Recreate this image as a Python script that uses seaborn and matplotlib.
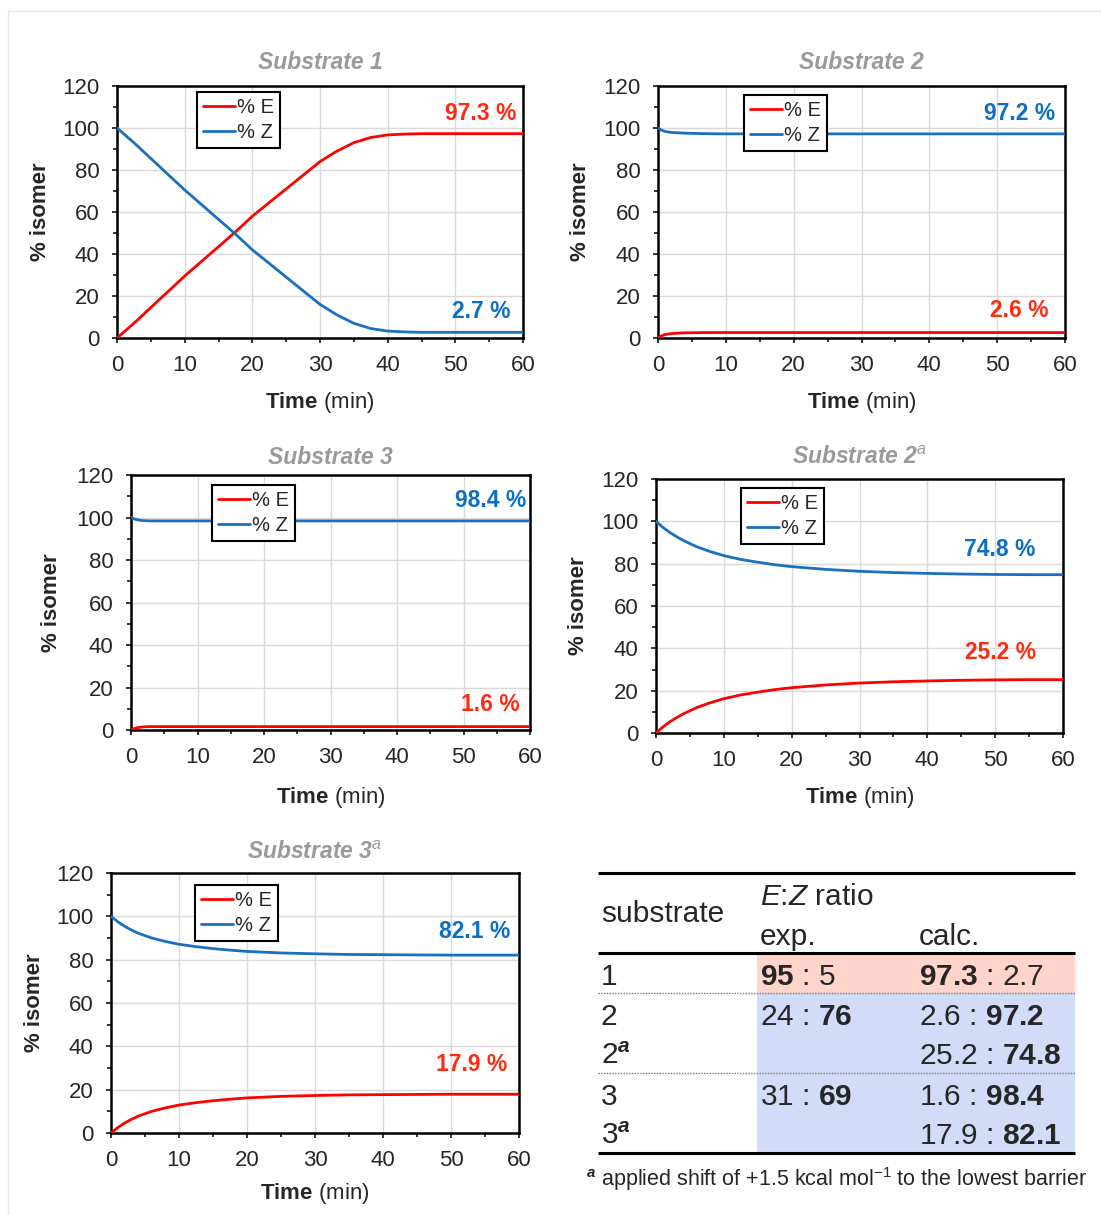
import matplotlib
matplotlib.use('Agg')
import matplotlib.pyplot as plt
from matplotlib.lines import Line2D
from matplotlib.patches import Rectangle
from matplotlib.ticker import MultipleLocator
import numpy as np
import pandas as pd
import seaborn as sns

# ---- data ----
s1_t = [0, 2.5, 5, 7.5, 10, 12.5, 15, 17.5, 20, 22.5, 25, 27.5, 30, 32.5, 35, 37.5, 40, 42.5, 45, 50, 55, 60]
s1_E = [0, 7, 14.5, 22, 29.5, 36.5, 43.5, 50.5, 58, 64.5, 71, 77.5, 84, 89, 93, 95.5, 96.7, 97.1, 97.3, 97.3, 97.3, 97.3]
s1_Z = [100, 93, 85.5, 78, 70.5, 63.5, 56.5, 49.5, 42, 35.5, 29, 22.5, 16, 11, 7, 4.5, 3.3, 2.9, 2.7, 2.7, 2.7, 2.7]

s2_t = [0, 0.5, 1, 1.5, 2, 3, 4, 5, 7, 10, 20, 30, 40, 50, 60]
s2_E = [0, 1.0, 1.6, 1.9, 2.1, 2.3, 2.45, 2.5, 2.6, 2.6, 2.6, 2.6, 2.6, 2.6, 2.6]
s2_Z = [100, 99.0, 98.4, 98.1, 97.9, 97.7, 97.55, 97.45, 97.3, 97.2, 97.2, 97.2, 97.2, 97.2, 97.2]

s3_t = [0, 0.5, 1, 1.5, 2, 3, 5, 10, 20, 30, 40, 50, 60]
s3_E = [0, 0.7, 1.1, 1.35, 1.5, 1.6, 1.6, 1.6, 1.6, 1.6, 1.6, 1.6, 1.6]
s3_Z = [100, 99.3, 98.9, 98.65, 98.5, 98.4, 98.4, 98.4, 98.4, 98.4, 98.4, 98.4, 98.4]

sa_t = [0, 1, 2, 3, 4, 6, 8, 10, 12.5, 15, 17.5, 20, 25, 30, 35, 40, 45, 50, 55, 60]
s2a_E = [0, 2.8, 5.2, 7.2, 9.0, 12.0, 14.3, 16.2, 18.0, 19.3, 20.5, 21.4, 22.7, 23.6, 24.2, 24.6, 24.9, 25.1, 25.2, 25.2]
s2a_Z = [100, 97.2, 94.8, 92.8, 91.0, 88.0, 85.7, 83.8, 82.0, 80.7, 79.5, 78.6, 77.3, 76.4, 75.8, 75.4, 75.1, 74.9, 74.8, 74.8]
s3a_E = [0, 2.5, 4.6, 6.3, 7.8, 10.0, 11.6, 12.9, 14.0, 14.9, 15.6, 16.2, 16.9, 17.3, 17.6, 17.7, 17.8, 17.9, 17.9, 17.9]
s3a_Z = [100, 97.5, 95.4, 93.7, 92.2, 90.0, 88.4, 87.1, 86.0, 85.1, 84.4, 83.8, 83.1, 82.7, 82.4, 82.3, 82.2, 82.1, 82.1, 82.1]

titles = ['Substrate 1', 'Substrate 2', 'Substrate 3',
          r'Substrate 2$^{\mathit{a}}$', r'Substrate 3$^{\mathit{a}}$']
final_E = ['97.3 %', '2.6 %', '1.6 %', '25.2 %', '17.9 %']
final_Z = ['2.7 %', '97.2 %', '98.4 %', '74.8 %', '82.1 %']

# table
tab_sub = ['1', '2', r'2$^{\mathbfit{a}}$', '3', r'3$^{\mathbfit{a}}$']
tab_exp = [r'$\mathbf{95}$ : 5', r'24 : $\mathbf{76}$', '', r'31 : $\mathbf{69}$', '']
tab_calc = [r'$\mathbf{97.3}$ : 2.7', r'2.6 : $\mathbf{97.2}$', r'25.2 : $\mathbf{74.8}$',
            r'1.6 : $\mathbf{98.4}$', r'17.9 : $\mathbf{82.1}$']

RED = '#FF0000'
BLUE = '#1A6FC0'
RED_TXT = '#FF2A10'
BLUE_TXT = '#0D6FC4'

sns.set_style('white')
plt.rcParams['font.family'] = ['Liberation Sans', 'DejaVu Sans']
plt.rcParams['mathtext.fontset'] = 'custom'
plt.rcParams['mathtext.rm'] = 'Liberation Sans'
plt.rcParams['mathtext.it'] = 'Liberation Sans:italic'
plt.rcParams['mathtext.bf'] = 'Liberation Sans:bold'
plt.rcParams['mathtext.bfit'] = 'Liberation Sans:bold:italic'

W, H = 1101, 1215
fig = plt.figure(figsize=(W / 100, H / 100), dpi=100)

# faint page border
fig.add_artist(Line2D([8 / W, 8 / W], [0, 1 - 11 / H], color='#E8E8E8', lw=1))
fig.add_artist(Line2D([8 / W, 1], [1 - 11 / H, 1 - 11 / H], color='#E8E8E8', lw=1))


def px_axes(x0, y0, x1, y1):
    return fig.add_axes([x0 / W, 1 - y1 / H, (x1 - x0) / W, (y1 - y0) / H])


# pixel boxes, title pad, ylabel x, xlabel y, legend anchor, label positions
panels = [
    dict(box=(117, 86, 523, 338), t=s1_t, E=s1_E, Z=s1_Z, pad=12, yl=-0.163, xl=-0.206,
         leg=(0.197, 0.976), posE=(59.0, 107.1), posZ=(58.1, 12.4)),
    dict(box=(658, 86, 1065, 338), t=s2_t, E=s2_E, Z=s2_Z, pad=12, yl=-0.165, xl=-0.206,
         leg=(0.211, 0.964), posE=(57.6, 13.3), posZ=(58.5, 107.0)),
    dict(box=(131, 475, 530, 730), t=s3_t, E=s3_E, Z=s3_Z, pad=8, yl=-0.173, xl=-0.216,
         leg=(0.203, 0.96), posE=(58.5, 11.8), posZ=(59.5, 107.8)),
    dict(box=(656, 479, 1063, 733), t=sa_t, E=s2a_E, Z=s2a_Z, pad=11, yl=-0.165, xl=-0.205,
         leg=(0.209, 0.965), posE=(56.0, 37.8), posZ=(56.0, 86.9)),
    dict(box=(111, 873, 519, 1133), t=sa_t, E=s3a_E, Z=s3a_Z, pad=10, yl=-0.162, xl=-0.185,
         leg=(0.206, 0.954), posE=(58.2, 31.8), posZ=(58.7, 92.8)),
]

for i, p in enumerate(panels):
    ax = px_axes(*p['box'])
    n = len(p['t'])
    df = pd.DataFrame({'Time': list(p['t']) * 2,
                       'pct': list(p['E']) + list(p['Z']),
                       'isomer': ['% E'] * n + ['% Z'] * n})
    sns.lineplot(data=df, x='Time', y='pct', hue='isomer',
                 palette={'% E': RED, '% Z': BLUE}, linewidth=2.0,
                 legend=False, ax=ax, zorder=3)
    ax.set_xlim(0, 60)
    ax.set_ylim(0, 120)
    ax.xaxis.set_major_locator(MultipleLocator(10))
    ax.xaxis.set_minor_locator(MultipleLocator(5))
    ax.yaxis.set_major_locator(MultipleLocator(20))
    ax.yaxis.set_minor_locator(MultipleLocator(10))
    ax.grid(True, which='major', color='#D9D9D9', lw=1)
    ax.tick_params(which='major', direction='out', length=3.6, width=1.3,
                   labelsize=16, bottom=True, left=True)
    ax.tick_params(which='minor', direction='out', length=2.8, width=1.3,
                   bottom=True, left=True)
    ax.tick_params(axis='x', which='major', pad=8.5)
    ax.tick_params(axis='y', which='major', pad=9)
    for s in ax.spines.values():
        s.set_visible(True)
        s.set_color('black')
        s.set_linewidth(1.8)
    ax.set_title(titles[i], fontsize=16.5, fontweight='bold', fontstyle='italic',
                 color='#9A9A9A', pad=p['pad'])
    ax.set_ylabel('% isomer', fontsize=16, fontweight='bold')
    ax.set_xlabel(r'$\mathbf{Time}$ (min)', fontsize=16)
    ax.yaxis.set_label_coords(p['yl'], 0.5)
    ax.xaxis.set_label_coords(0.5, p['xl'])

    handles = [Line2D([], [], color=RED, lw=2.0), Line2D([], [], color=BLUE, lw=2.0)]
    leg = ax.legend(handles, ['% E', '% Z'], loc='upper left', bbox_to_anchor=p['leg'],
                    fontsize=14.5, frameon=True, fancybox=False, framealpha=1,
                    edgecolor='black', handlelength=1.6, handletextpad=0.1,
                    borderpad=0.3, labelspacing=0.3, borderaxespad=0)
    leg.get_frame().set_linewidth(1.5)
    leg.set_zorder(5)

    ax.text(*p['posE'], final_E[i], ha='right', va='center', color=RED_TXT,
            fontsize=16.5, fontweight='bold', zorder=6)
    ax.text(*p['posZ'], final_Z[i], ha='right', va='center', color=BLUE_TXT,
            fontsize=16.5, fontweight='bold', zorder=6)

# ---- table drawn in pixel space ----
tb = fig.add_axes([0, 0, 1, 1], zorder=-1)
tb.set_xlim(0, W)
tb.set_ylim(H, 0)
tb.axis('off')

tb.add_patch(Rectangle((757, 953), 1075 - 757, 40, facecolor='#FFD4CB', edgecolor='none'))
tb.add_patch(Rectangle((757, 993), 1075 - 757, 160, facecolor='#D2DBF8', edgecolor='none'))
for y in (873, 953, 1153):
    tb.plot([598, 1075], [y, y], color='black', lw=2.2, solid_capstyle='butt')
for y in (993, 1073):
    tb.plot([598, 1075], [y, y], color='#777777', lw=1, ls=(0, (1, 1)))

fs = 21.5
tb.text(601, 914, 'substrate', fontsize=fs, va='center', ha='left')
tb.text(760, 897, r'$\mathit{E}$:$\mathit{Z}$ ratio', fontsize=fs, va='center', ha='left')
tb.text(760, 937, 'exp.', fontsize=fs, va='center', ha='left')
tb.text(919, 937, 'calc.', fontsize=fs, va='center', ha='left')

row_y = [977, 1017, 1056, 1097, 1136]
for y, s, e, c in zip(row_y, tab_sub, tab_exp, tab_calc):
    tb.text(601, y, s, fontsize=fs, va='center', ha='left')
    if e:
        tb.text(760, y, e, fontsize=fs, va='center', ha='left')
    tb.text(919, y, c, fontsize=fs, va='center', ha='left')

tb.text(586, 1179, r'$^{\mathbfit{a}}$ applied shift of +1.5 kcal mol$^{\mathregular{-1}}$ to the lowest barrier',
        fontsize=15.5, va='center', ha='left')

fig.savefig('out.png', dpi=100)
